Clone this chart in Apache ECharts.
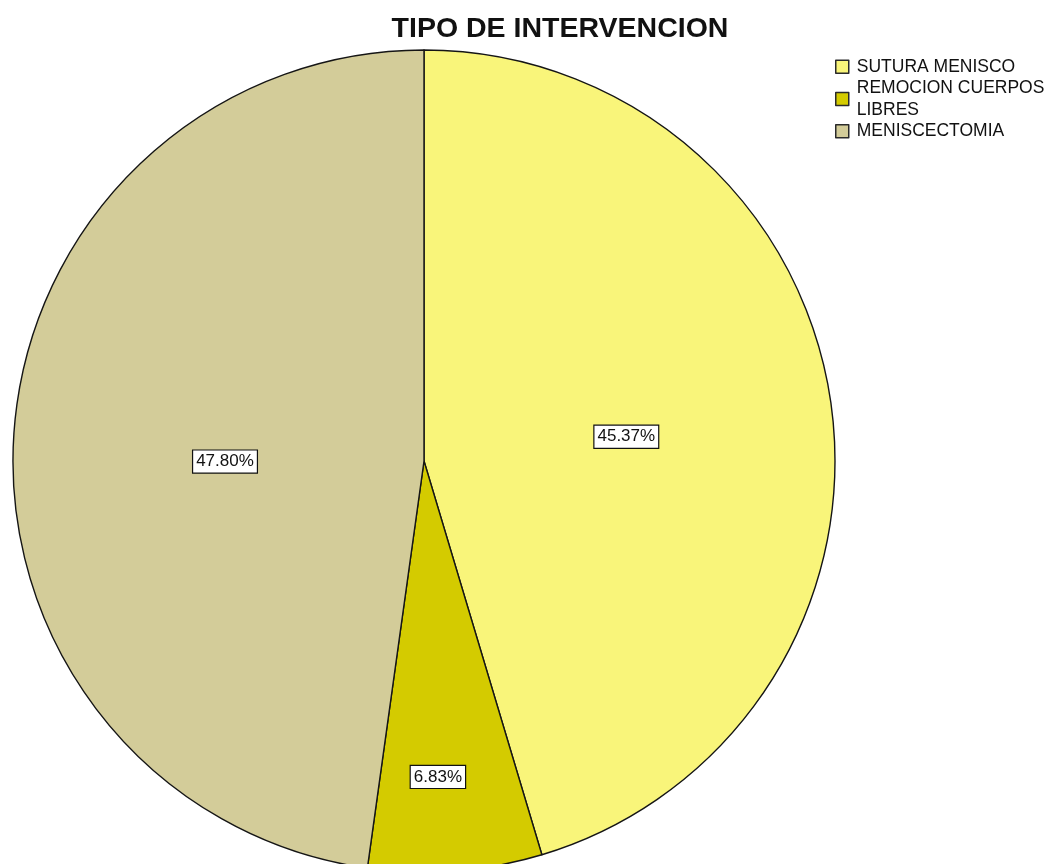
<!DOCTYPE html>
<html>
<head>
<meta charset="utf-8">
<title>TIPO DE INTERVENCION</title>
<script src="https://cdn.jsdelivr.net/npm/echarts@6/dist/echarts.min.js"></script>
<style>
  html, body { margin: 0; padding: 0; background: #ffffff; }
  #chart { width: 1049px; height: 864px; }
</style>
</head>
<body>
<div id="chart"></div>
<script>
// Intervention types and their share of cases (%)
const categories = ['SUTURA MENISCO', 'REMOCION CUERPOS LIBRES', 'MENISCECTOMIA'];
const percentages = [45.37, 6.83, 47.80];
const sliceColors = ['#f9f57a', '#d4cb00', '#d3cc99'];

const chart = echarts.init(document.getElementById('chart'), null, { renderer: 'canvas' });

const pieData = categories.map((name, i) => ({
  name: name,
  value: percentages[i],
  itemStyle: { color: sliceColors[i] }
}));

// Small nudges so the value boxes sit where they read best inside each slice
function labelNudge(params) {
  const nudges = [
    { dx: -4, dy: 6 },
    { dx: -2, dy: 108 },
    { dx: 9, dy: 15 }
  ];
  return nudges[params.dataIndex] || {};
}

chart.setOption({
  backgroundColor: '#ffffff',
  animation: false,
  title: {
    text: 'TIPO DE INTERVENCION',
    left: 555,
    top: 10,
    textAlign: 'center',
    textStyle: {
      fontFamily: 'Liberation Sans, Arial, sans-serif',
      fontSize: 28.5,
      fontWeight: 'bold',
      color: '#111111'
    }
  },
  legend: {
    orient: 'vertical',
    left: 835,
    top: 56,
    padding: 0,
    itemWidth: 13,
    itemHeight: 13,
    itemGap: 0,
    icon: 'rect',
    selectedMode: false,
    itemStyle: { borderColor: '#2a2a2a', borderWidth: 1.5 },
    formatter: function (name) {
      return name === 'REMOCION CUERPOS LIBRES' ? 'REMOCION CUERPOS\nLIBRES' : name;
    },
    textStyle: {
      fontFamily: 'Liberation Sans, Arial, sans-serif',
      fontSize: 17.5,
      lineHeight: 21.5,
      color: '#111111',
      padding: [0, 0, 0, 3]
    },
    data: categories
  },
  series: [{
    type: 'pie',
    center: [424, 461],
    radius: 411,
    startAngle: 90,
    clockwise: true,
    silent: true,
    avoidLabelOverlap: false,
    itemStyle: { borderColor: '#151515', borderWidth: 1.4 },
    label: {
      show: true,
      position: 'inside',
      formatter: function (p) { return p.value.toFixed(2) + '%'; },
      fontFamily: 'Liberation Sans, Arial, sans-serif',
      fontSize: 17,
      color: '#111111',
      backgroundColor: '#ffffff',
      borderColor: '#111111',
      borderWidth: 1.2,
      padding: [3, 3, 2, 3]
    },
    labelLine: { show: false },
    labelLayout: labelNudge,
    emphasis: { disabled: true },
    data: pieData
  }]
});
</script>
</body>
</html>
